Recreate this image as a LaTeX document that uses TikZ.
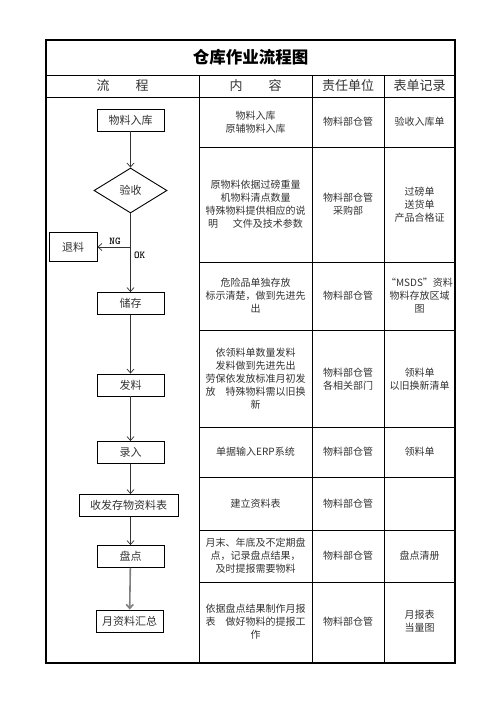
\documentclass[tikz,border=0pt]{standalone}
\usepackage{fontspec}
\setmainfont{Noto Sans CJK SC}
\usetikzlibrary{shapes.geometric,arrows.meta}
\definecolor{inkgray}{HTML}{333333}
\tikzset{
  flowbox/.style={draw,line width=0.9pt,minimum height=22pt,inner sep=2pt,font=\fontsize{11}{13}\selectfont,text=inkgray},
  checkbox/.style={draw,line width=0.9pt,diamond,aspect=1.6,minimum width=73pt,minimum height=45pt,inner sep=1pt,font=\fontsize{11}{13}\selectfont,text=inkgray},
  cell/.style={align=center,font=\fontsize{10}{13}\selectfont,text=inkgray,inner sep=0pt},
  headcell/.style={font=\fontsize{13}{15}\selectfont,text=inkgray,inner sep=0pt},
  branchlabel/.style={font=\fontsize{10.5}{11}\selectfont\ttfamily\bfseries,inner sep=1pt},
  flow/.style={->,line width=0.7pt,draw=inkgray}
}
\begin{document}
\begin{tikzpicture}[x=1pt,y=-1pt,>={Straight Barb[length=4pt,width=7pt]}]
\useasboundingbox[fill=white] (0,0) rectangle (496,702);
% frame and table lines
\draw[line width=1.6pt] (46,40) rectangle (455,663);
\draw[line width=0.8pt] (46,75) -- (455,75);
\draw[line width=0.8pt] (46,97) -- (455,97);
\foreach \xx in {199,312,384} {\draw[line width=0.8pt] (\xx,75) -- (\xx,663);}
\foreach \yy in {147,262,330,427,477,530,582} {\draw[line width=0.8pt] (199,\yy) -- (455,\yy);}
% title and header
\node[font=\fontsize{16.5}{18}\selectfont\bfseries] (title) at (250.5,57.5) {仓库作业流程图};
\node[headcell] (hflow) at (122.5,86) {流\hspace{2em}程};
\node[headcell] (hcont) at (255.5,86) {内\hspace{2em}容};
\node[headcell] (hunit) at (348,86) {责任单位};
\node[headcell] (hrec) at (419.5,86) {表单记录};
% flow chart
\node[flowbox,minimum width=67pt] (ruku) at (130.5,120) {物料入库};
\node[checkbox] (yanshou) at (130.5,190.5) {验收};
\node[flowbox,minimum width=48pt,minimum height=29pt] (tuiliao) at (73,247) {退料};
\node[flowbox,minimum width=67pt] (chucun) at (130.5,303.5) {储存};
\node[flowbox,minimum width=67pt] (faliao) at (130.5,385) {发料};
\node[flowbox,minimum width=67pt] (luru) at (130.5,452.5) {录入};
\node[flowbox,minimum width=99pt] (biao) at (128.5,505.5) {收发存物资料表};
\node[flowbox,minimum width=67pt] (pandian) at (130.5,556.5) {盘点};
\node[flowbox,minimum width=67pt] (huizong) at (129.5,621) {月资料汇总};
\coordinate (jn) at (yanshou |- tuiliao);
\draw[flow] (ruku) -- (yanshou);
\draw[flow] (yanshou) -- (chucun);
\draw[flow] (jn) -- (tuiliao);
\node[branchlabel,anchor=south] (ng) at (115,246) {NG};
\node[branchlabel,anchor=west] (ok) at (133,255) {OK};
\draw[flow] (chucun) -- (faliao);
\draw[flow] (faliao) -- (luru);
\draw[flow] (luru) -- (biao.north -| luru);
\draw[flow] (biao.south -| pandian) -- (pandian);
\draw[flow,line width=1.6pt,draw=gray] (pandian) -- (huizong);
% table content
\node[cell] (c1) at (255.5,122) {物料入库\\原辅物料入库};
\node[cell] (d1) at (348,122) {物料部仓管};
\node[cell] (r1) at (419.5,122) {验收入库单};
\node[cell] (c2) at (255.5,204.5) {原物料依据过磅重量\\机物料清点数量\\特殊物料提供相应的说\\明\hspace{1.5em}文件及技术参数};
\node[cell] (d2) at (348,204.5) {物料部仓管\\采购部};
\node[cell] (r2) at (419.5,204.5) {过磅单\\送货单\\产品合格证};
\node[cell] (c3) at (255.5,296) {危险品单独存放\\标示清楚，做到先进先\\出};
\node[cell] (d3) at (348,296) {物料部仓管};
\node[cell] (r3) at (419.5,296) {“MSDS”资料\\物料存放区域\\图};
\node[cell] (c4) at (255.5,379) {依领料单数量发料\\发料做到先进先出\\劳保依发放标准月初发\\放\hspace{1em}特殊物料需以旧换\\新};
\node[cell] (d4) at (348,379) {物料部仓管\\各相关部门};
\node[cell] (r4) at (419.5,379) {领料单\\以旧换新清单};
\node[cell] (c5) at (255.5,452) {单据输入ERP系统};
\node[cell] (d5) at (348,452) {物料部仓管};
\node[cell] (r5) at (419.5,452) {领料单};
\node[cell] (c6) at (255.5,503.5) {建立资料表};
\node[cell] (d6) at (348,503.5) {物料部仓管};
\node[cell] (c7) at (255.5,556) {月末、年底及不定期盘\\点，记录盘点结果，\\及时提报需要物料};
\node[cell] (d7) at (348,556) {物料部仓管};
\node[cell] (r7) at (419.5,556) {盘点清册};
\node[cell] (c8) at (255.5,621.5) {依据盘点结果制作月报\\表\hspace{1em}做好物料的提报工\\作};
\node[cell] (d8) at (348,621.5) {物料部仓管};
\node[cell] (r8) at (419.5,621.5) {月报表\\当量图};
\end{tikzpicture}
\end{document}
